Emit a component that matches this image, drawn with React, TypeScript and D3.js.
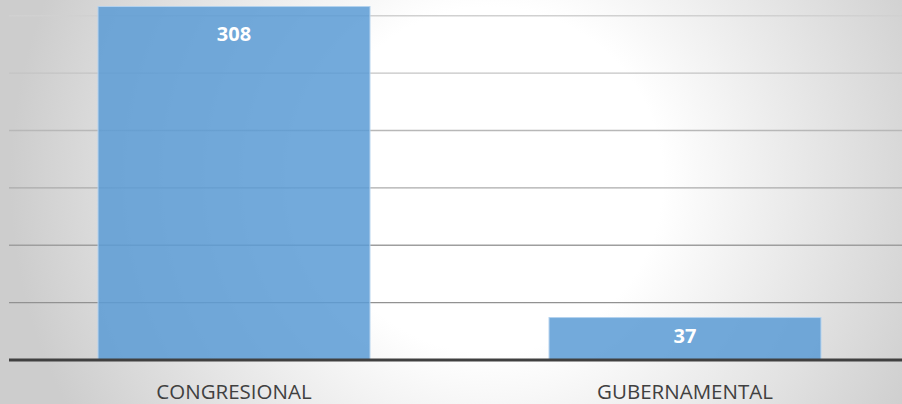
import React from 'react';
import { scaleLinear, scaleBand } from 'd3';

const categories = ['CONGRESIONAL', 'GUBERNAMENTAL'];
const values = [308, 37];
const gridTicks = [50, 100, 150, 200, 250, 300];

const W = 902;
const H = 404;

const App: React.FC = () => {
  const y = scaleLinear().domain([0, 300]).range([360, 15.7]);
  const x = scaleBand()
    .domain(categories)
    .range([8.5, 910.5])
    .paddingInner(0.397)
    .paddingOuter(0.1985);

  const data = categories.map((c, i) => ({ name: c, value: values[i] }));

  return (
    <svg width={W} height={H} style={{ position: 'absolute', left: 0, top: 0 }}>
      <defs>
        <radialGradient id="bg" gradientUnits="userSpaceOnUse" cx={490} cy={180} r={480}>
          <stop offset="0" stopColor="#ffffff" />
          <stop offset="0.36" stopColor="#ffffff" />
          <stop offset="1" stopColor="#cdcdcd" />
        </radialGradient>
        <linearGradient id="grid" gradientUnits="userSpaceOnUse" x1={0} y1={0} x2={0} y2={360}>
          <stop offset="0" stopColor="#d4d4d4" />
          <stop offset="1" stopColor="#858585" />
        </linearGradient>
      </defs>
      <rect x={0} y={0} width={W} height={H} fill="url(#bg)" />

      {gridTicks.map(t => (
        <line key={t} x1={9} x2={W} y1={y(t)} y2={y(t)} stroke="url(#grid)" strokeWidth={1.4} />
      ))}

      {data.map(d => (
        <rect
          key={d.name}
          x={x(d.name)!}
          y={y(d.value)}
          width={x.bandwidth()}
          height={y(0) - y(d.value)}
          fill="#5b9bd5"
          fillOpacity={0.85}
          stroke="#b4d2ee"
          strokeWidth={1}
        />
      ))}

      <line x1={9} x2={W} y1={y(0)} y2={y(0)} stroke="#404040" strokeWidth={3} />

      {data.map(d => (
        <text
          key={'v' + d.name}
          x={x(d.name)! + x.bandwidth() / 2}
          y={Math.max(y(d.value), y(300)) + 25.5}
          textAnchor="middle"
          fontFamily="'Open Sans', sans-serif"
          fontWeight="bold"
          fontSize={20}
          fill="#ffffff"
        >
          {d.value}
        </text>
      ))}

      {data.map(d => (
        <text
          key={'c' + d.name}
          x={x(d.name)! + x.bandwidth() / 2}
          y={398.5}
          textAnchor="middle"
          fontFamily="'Open Sans', sans-serif"
          fontSize={20.5}
          fill="#404040"
        >
          {d.name}
        </text>
      ))}
    </svg>
  );
};

export default App;
